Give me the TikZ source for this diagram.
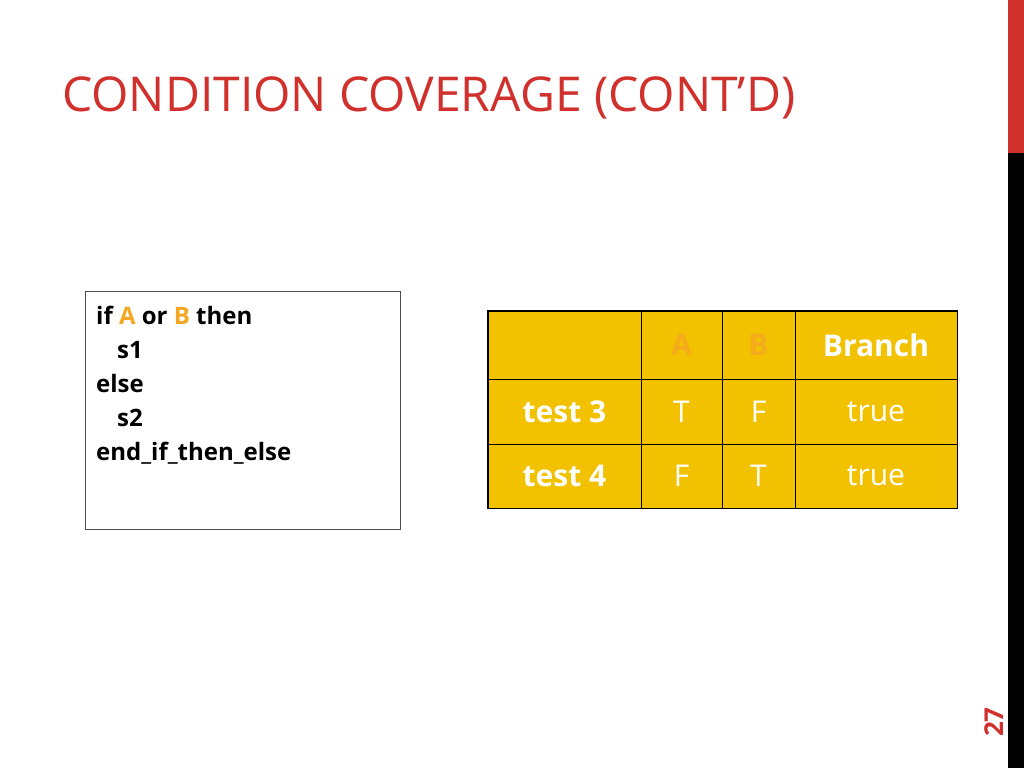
\documentclass[tikz,border=0pt]{standalone}
\usepackage{fontspec}
\setmainfont{Open Sans}
\usetikzlibrary{positioning}
\definecolor{slidered}{HTML}{D0312D}
\definecolor{cellfill}{HTML}{F2C200}
\definecolor{varorange}{HTML}{F5A623}
\tikzset{
cell/.style = {draw=black, thick, fill=cellfill, text=white, inner sep=0pt, minimum height=66pt, font=\fontsize{30}{30}\selectfont},
bold_cell/.style = {cell, font=\fontsize{30}{30}\selectfont\bfseries},
code/.style = {anchor=base west, inner sep=0pt, font=\fontsize{24}{24}\selectfont\bfseries}
}
\begin{document}
\begin{tikzpicture}[x=1pt, y=-1pt]
\useasboundingbox (0,0) rectangle (1024,768);
\fill[white] (0,0) rectangle (1024,768);

% Side bar
\fill[slidered] (1008,0) rectangle (1024,153);
\fill[black] (1008,153) rectangle (1024,768);
\node (Page_No) [rotate=90, text=slidered, font=\fontsize{26}{26}\selectfont\bfseries, inner sep=0pt] at (994,722) {27};

% Title
\node (Title) [anchor=base west, inner sep=0pt, text=slidered, font=\fontsize{48}{48}\selectfont] at (62,111) {CONDITION COVERAGE (CONT’D)};

% Code box
\node (Code_Box) [draw=black!70, minimum width=315pt, minimum height=238pt, inner sep=0pt] at (242.5,410) {};
\node (Line_1) [code] at (96,324) {if \textcolor{varorange}{A} or \textcolor{varorange}{B} then};
\node (Line_2) [code] at (117,358) {s1};
\node (Line_3) [code] at (96,392) {else};
\node (Line_4) [code] at (117,426) {s2};
\node (Line_5) [code] at (96,460) {end\_if\_then\_else};

% Table header
\node (Head_Test) [cell, minimum width=153pt, minimum height=68pt] at (564.5,345) {};
\node (Head_A) [bold_cell, text=varorange!80!cellfill, minimum width=81pt, minimum height=68pt] at (681.5,345) {A};
\node (Head_B) [bold_cell, text=varorange!80!cellfill, minimum width=73pt, minimum height=68pt] at (758.5,345) {B};
\node (Head_Branch) [bold_cell, minimum width=162pt, minimum height=68pt] at (876,345) {Branch};

% Row test 3
\node (Test_3) [bold_cell, minimum width=153pt, minimum height=65pt] at (564.5,411.5) {test 3};
\node (A_3) [cell, minimum width=81pt, minimum height=65pt] at (681.5,411.5) {T};
\node (B_3) [cell, minimum width=73pt, minimum height=65pt] at (758.5,411.5) {F};
\node (Branch_3) [cell, minimum width=162pt, minimum height=65pt] at (876,411.5) {true};

% Row test 4
\node (Test_4) [bold_cell, minimum width=153pt, minimum height=64pt] at (564.5,476) {test 4};
\node (A_4) [cell, minimum width=81pt, minimum height=64pt] at (681.5,476) {F};
\node (B_4) [cell, minimum width=73pt, minimum height=64pt] at (758.5,476) {T};
\node (Branch_4) [cell, minimum width=162pt, minimum height=64pt] at (876,476) {true};

% Outer frame
\draw[black, very thick] (Head_Test.north west) rectangle (Branch_4.south east);
\end{tikzpicture}
\end{document}
